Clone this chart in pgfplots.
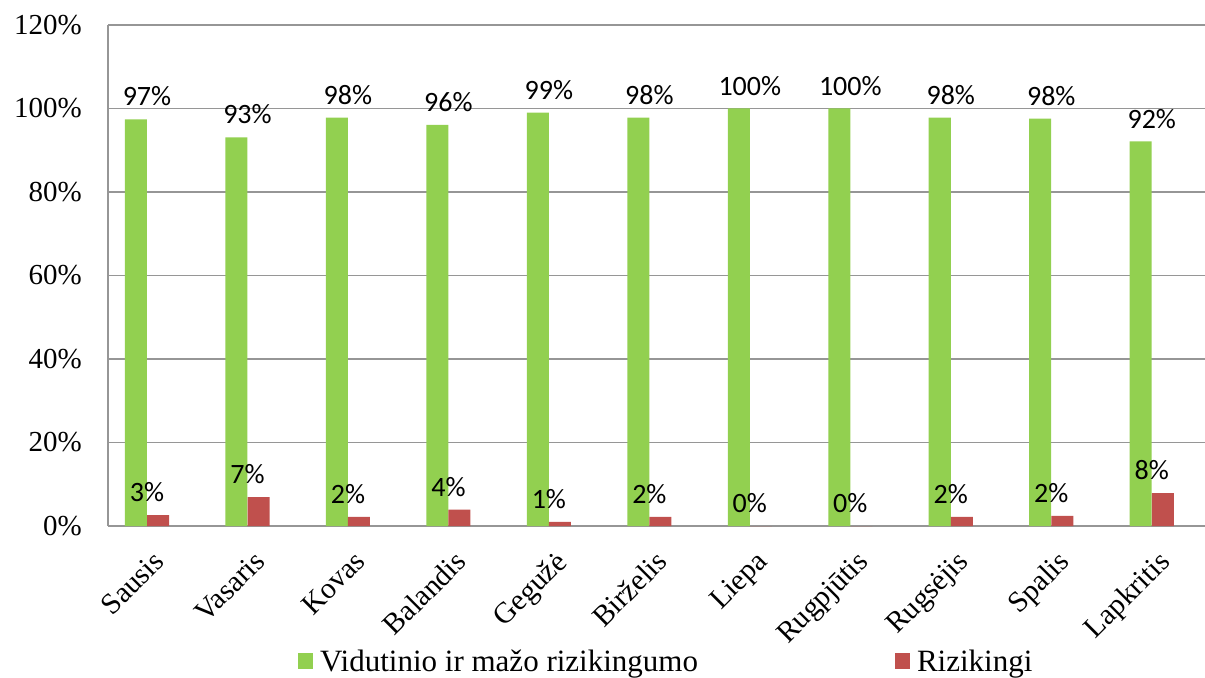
\documentclass[border=0pt]{standalone}
\usepackage{fontspec}
\setmainfont{Liberation Serif}
\newfontfamily\calibri{Carlito}
\newfontfamily\timesfont{Liberation Serif}
\usepackage{pgfplots}
\usepackage{pgfplotstable}
\pgfplotsset{compat=1.18}
\definecolor{cgreen}{RGB}{146,208,80}
\definecolor{cred}{RGB}{192,80,77}
\definecolor{cgrid}{RGB}{150,150,150}

\pgfplotstableread{
x y lab
0 97.4 97
1 93.1 93
2 97.8 98
3 96.1 96
4 99.0 99
5 97.8 98
6 100 100
7 100 100
8 97.8 98
9 97.6 98
10 92.1 92
}\greentab

\pgfplotstableread{
x y lab
0 2.6 3
1 6.9 7
2 2.2 2
3 3.9 4
4 1.0 1
5 2.2 2
6 0 0
7 0 0
8 2.2 2
9 2.4 2
10 7.9 8
}\redtab

\begin{document}
\begin{tikzpicture}
\begin{axis}[
  name=ax,
  width=1097pt, height=501pt, scale only axis,
  xmin=-0.388, xmax=10.53, ymin=0, ymax=120,
  axis x line=bottom, axis y line=left,
  axis line style={draw=cgrid, line width=1.2pt, -},
  ymajorgrids, grid style={draw=cgrid, line width=1.2pt},
  major tick length=0pt,
  ytick={0,20,...,120},
  yticklabels={0\%,20\%,40\%,60\%,80\%,100\%,120\%},
  yticklabel style={font=\timesfont\fontsize{29}{34}\selectfont, inner sep=0pt, anchor=east, xshift=-26pt},
  xtick={0,...,10},
  xticklabels={Sausis,Vasaris,Kovas,Balandis,Gegužė,Birželis,Liepa,Rugpjūtis,Rugsėjis,Spalis,Lapkritis},
  xticklabel style={font=\timesfont\fontsize{29.5}{34}\selectfont, inner sep=0pt, anchor=north east, xshift=5pt, yshift=-23pt, rotate=45},
  legend columns=2,
  legend style={at={(0.1732,-0.2695)}, anchor=west, draw=none, fill=none, inner sep=0pt,
    font=\timesfont\fontsize{31}{35}\selectfont,
    nodes={inner xsep=7pt, inner ysep=0pt},
    /tikz/every even column/.append style={column sep=190pt}},
  legend image code/.code={\fill[#1] (0pt,-8pt) rectangle (15pt,8pt);},
]
\addplot[ybar, bar width=0.219, bar shift=-0.11, fill=cgreen, draw=none,
  point meta=explicit symbolic,
  nodes near coords={{\calibri\pgfplotspointmeta\%}},
  nodes near coords style={font=\fontsize{28}{32}\selectfont, anchor=south, inner sep=0pt, yshift=13pt, text=black}]
  table[x=x, y=y, meta=lab] {\greentab};
\addlegendentry{\timesfont Vidutinio ir mažo rizikingumo}
\addplot[ybar, bar width=0.219, bar shift=0.11, fill=cred, draw=none,
  point meta=explicit symbolic,
  nodes near coords={{\calibri\pgfplotspointmeta\%}},
  nodes near coords style={font=\fontsize{28}{32}\selectfont, anchor=south, inner sep=0pt, yshift=13pt, text=black}]
  table[x=x, y=y, meta=lab] {\redtab};
\addlegendentry{\timesfont Rizikingi}
\end{axis}
\pgfresetboundingbox
\path ([shift={(-108pt,-151pt)}]ax.south west) rectangle ([shift={(0pt,25pt)}]ax.north east);
\end{tikzpicture}
\end{document}
